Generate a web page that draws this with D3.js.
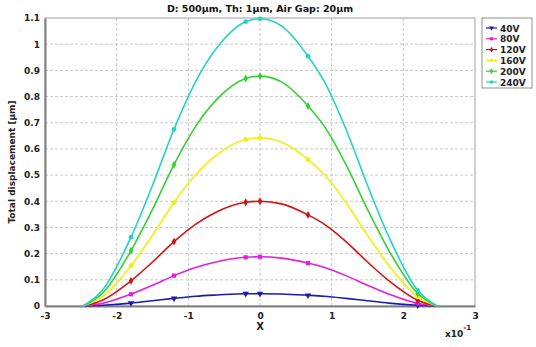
<!DOCTYPE html>
<html>
<head>
<meta charset="utf-8">
<script src="https://cdn.jsdelivr.net/npm/d3@7"></script>
<style>
  body { margin: 0; background: #fff; }
  text { font-family: "DejaVu Sans", Verdana, sans-serif; font-weight: bold; }
</style>
</head>
<body>
<script>
// data (x in units of 1e-1)
var xs = [-2.47, -2.2, -1.8, -1.5, -1.2, -0.9, -0.6, -0.2, 0, 0.3, 0.67, 0.9, 1.2, 1.5, 1.8, 2.2, 2.47];
var markerIdx = [2, 4, 7, 8, 10, 15];
var labels = ["40V", "80V", "120V", "160V", "200V", "240V"];
var v40 = [0, 0.003, 0.011, 0.020, 0.029, 0.037, 0.042, 0.047, 0.047, 0.046, 0.041, 0.037, 0.029, 0.020, 0.011, 0.003, 0];
var v80 = [0, 0.010, 0.045, 0.079, 0.116, 0.147, 0.169, 0.186, 0.188, 0.183, 0.164, 0.147, 0.116, 0.079, 0.045, 0.010, 0];
var v120 = [0, 0.022, 0.096, 0.168, 0.246, 0.312, 0.360, 0.396, 0.400, 0.390, 0.348, 0.312, 0.246, 0.168, 0.096, 0.022, 0];
var v160 = [0, 0.035, 0.154, 0.270, 0.395, 0.501, 0.578, 0.636, 0.642, 0.626, 0.559, 0.501, 0.395, 0.270, 0.154, 0.035, 0];
var v200 = [0, 0.048, 0.211, 0.369, 0.540, 0.685, 0.790, 0.869, 0.878, 0.856, 0.764, 0.685, 0.540, 0.369, 0.211, 0.048, 0];
var v240 = [0, 0.060, 0.263, 0.461, 0.675, 0.856, 0.987, 1.086, 1.097, 1.070, 0.954, 0.856, 0.675, 0.461, 0.263, 0.060, 0];
var xTicks = [-3, -2, -1, 0, 1, 2, 3];
var yTicks = [0, 0.1, 0.2, 0.3, 0.4, 0.5, 0.6, 0.7, 0.8, 0.9, 1, 1.1];

var allSeries = [v40, v80, v120, v160, v200, v240];
var colors = ["#1c1caa", "#e21ee0", "#d01414", "#f0f010", "#34d034", "#22d4c4"];
var symbols = [d3.symbolTriangle, d3.symbolSquare, d3.symbolDiamond, d3.symbolCircle, d3.symbolDiamond, d3.symbolCircle];
var rotate = [180, 0, 0, 0, 0, 0];

var width = 536, height = 347;
var margin = {left: 45, right: 61, top: 18, bottom: 41};

var svg = d3.select("body").append("svg")
    .attr("width", width)
    .attr("height", height);

var xScale = d3.scaleLinear().domain([-3, 3]).range([margin.left, width - margin.right]);
var yScale = d3.scaleLinear().domain([0, 1.1]).range([height - margin.bottom, margin.top]);

// grid
svg.append("g").selectAll("line").data(xTicks.slice(1, -1)).enter().append("line")
    .attr("x1", function(d) { return xScale(d); }).attr("x2", function(d) { return xScale(d); })
    .attr("y1", yScale(0)).attr("y2", yScale(1.1))
    .attr("stroke", "#c8c8c8").attr("stroke-dasharray", "3,2");
svg.append("g").selectAll("line").data(yTicks.slice(1, -1)).enter().append("line")
    .attr("x1", xScale(-3)).attr("x2", xScale(3))
    .attr("y1", function(d) { return yScale(d); }).attr("y2", function(d) { return yScale(d); })
    .attr("stroke", "#c8c8c8").attr("stroke-dasharray", "3,2");

// frame
svg.append("rect")
    .attr("x", xScale(-3)).attr("y", yScale(1.1))
    .attr("width", xScale(3) - xScale(-3)).attr("height", yScale(0) - yScale(1.1))
    .attr("fill", "none").attr("stroke", "#a0a0a0");

// axes
var xAxis = svg.append("g")
    .attr("transform", "translate(0," + yScale(0) + ")")
    .call(d3.axisBottom(xScale).tickValues(xTicks).tickFormat(function(d) { return String(d); }).tickSize(0).tickPadding(7));
var yAxis = svg.append("g")
    .attr("transform", "translate(" + xScale(-3) + ",0)")
    .call(d3.axisLeft(yScale).tickValues(yTicks).tickFormat(function(d) { return String(+d.toFixed(1)); }).tickSize(0).tickPadding(5));
[xAxis, yAxis].forEach(function(a) {
  a.select(".domain").attr("stroke", "#808080").attr("stroke-width", 2);
  a.selectAll("text").attr("fill", "#222").style("font-size", "9px").style("font-family", "'DejaVu Sans', sans-serif").style("font-weight", "bold");
});

// curves
var line = d3.line()
    .x(function(d, i) { return xScale(xs[i]); })
    .y(function(d) { return yScale(d); })
    .curve(d3.curveMonotoneX);

allSeries.forEach(function(vals, s) {
  svg.append("path")
      .datum(vals)
      .attr("d", line)
      .attr("fill", "none")
      .attr("stroke", colors[s])
      .attr("stroke-width", 1.6);
  svg.append("g").selectAll("path").data(markerIdx).enter().append("path")
      .attr("d", d3.symbol().type(symbols[s]).size(18))
      .attr("transform", function(i) {
        return "translate(" + xScale(xs[i]) + "," + yScale(vals[i]) + ") rotate(" + rotate[s] + ")";
      })
      .attr("fill", colors[s]);
});

// titles
svg.append("text")
    .attr("x", (xScale(-3) + xScale(3)) / 2).attr("y", 12)
    .attr("text-anchor", "middle").style("font-size", "9.5px").attr("fill", "#111")
    .text("D: 500μm, Th: 1μm, Air Gap: 20μm");
svg.append("text")
    .attr("x", xScale(0)).attr("y", 330)
    .attr("text-anchor", "middle").style("font-size", "10px").attr("fill", "#222")
    .text("X");
var expo = svg.append("text")
    .attr("x", 445).attr("y", 337)
    .style("font-size", "9px").attr("fill", "#222");
expo.append("tspan").text("x10");
expo.append("tspan").attr("dy", -7).style("font-size", "7px").text("-1");
svg.append("text")
    .attr("transform", "translate(15," + yScale(0.55) + ") rotate(-90)")
    .attr("text-anchor", "middle").style("font-size", "9px").attr("fill", "#222")
    .text("Total displacement [μm]");

// legend
var legend = svg.append("g").attr("transform", "translate(482,18)");
legend.append("rect")
    .attr("width", 50).attr("height", 70)
    .attr("fill", "#fff").attr("stroke", "#909090");
labels.forEach(function(lab, s) {
  var y = 10 + s * 10.8;
  legend.append("line")
      .attr("x1", 4).attr("x2", 15).attr("y1", y).attr("y2", y)
      .attr("stroke", colors[s]).attr("stroke-width", 1.2);
  legend.append("path")
      .attr("d", d3.symbol().type(symbols[s]).size(10))
      .attr("transform", "translate(9.5," + y + ") rotate(" + rotate[s] + ")")
      .attr("fill", colors[s]);
  legend.append("text")
      .attr("x", 18).attr("y", y + 3.5)
      .style("font-size", "9px").attr("fill", "#222")
      .text(lab);
});
</script>
</body>
</html>
